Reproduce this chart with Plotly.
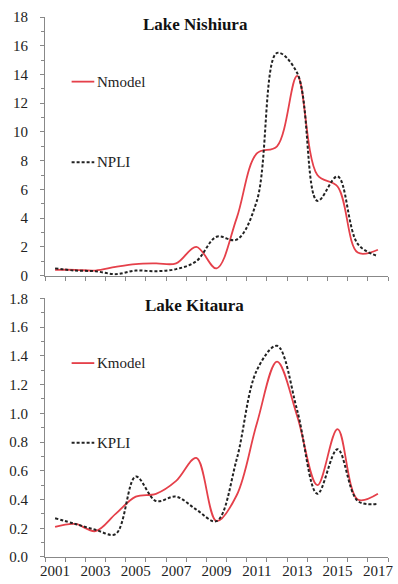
import plotly.graph_objects as go
from plotly.subplots import make_subplots

years = list(range(2001, 2018))
nmodel = [0.4, 0.4, 0.35, 0.6, 0.8, 0.85, 0.85, 2.0, 0.5, 4.0, 8.5, 9.0, 13.9, 7.0, 6.2, 1.6, 1.8]
npli = [0.5, 0.35, 0.3, 0.1, 0.35, 0.3, 0.45, 1.0, 2.7, 2.5, 5.2, 15.5, 14.1, 5.2, 6.9, 2.2, 1.35]
kmodel = [0.21, 0.23, 0.18, 0.30, 0.42, 0.44, 0.53, 0.69, 0.25, 0.43, 0.93, 1.36, 0.98, 0.50, 0.89, 0.40, 0.44]
kpli = [0.27, 0.23, 0.19, 0.16, 0.56, 0.39, 0.42, 0.33, 0.25, 0.68, 1.30, 1.47, 1.02, 0.44, 0.75, 0.39, 0.37]
year_labels = [str(y) for y in range(2001, 2018, 2)]

W, H = 398, 584
L, R, T, B = 45, 5, 17, 24
pw, ph = W - L - R, H - T - B

def px(x):
    return (x - L) / pw

def py(y):
    return (H - B - y) / ph

RED = "#e5404a"
DARK = "#222222"
SERIF = "Liberation Serif"

fig = make_subplots(rows=2, cols=1, shared_xaxes=False)

fig.add_trace(go.Scatter(x=years, y=nmodel, mode="lines", line=dict(color=RED, width=1.8, shape="spline"), showlegend=False), row=1, col=1)
fig.add_trace(go.Scatter(x=years, y=npli, mode="lines", line=dict(color=DARK, width=2, shape="spline", dash="3px,2px"), showlegend=False), row=1, col=1)
fig.add_trace(go.Scatter(x=years, y=kmodel, mode="lines", line=dict(color=RED, width=1.8, shape="spline"), showlegend=False), row=2, col=1)
fig.add_trace(go.Scatter(x=years, y=kpli, mode="lines", line=dict(color=DARK, width=2, shape="spline", dash="3px,2px"), showlegend=False), row=2, col=1)

axis_common = dict(
    showline=True, linecolor="#888888", linewidth=1, showgrid=False, zeroline=False,
    tickfont=dict(family=SERIF, size=15, color=DARK), ticklabeloverflow="allow",
)

xcommon = dict(
    axis_common, range=[2000.5, 2017.5], tickmode="array",
    tickvals=[int(v) for v in year_labels], ticktext=year_labels, ticks="", ticklen=0,
    minor=dict(tick0=2000.5, dtick=1, ticks="outside", ticklen=4, tickcolor="#888888"),
)
fig.update_xaxes(**xcommon, row=1, col=1, showticklabels=False)
fig.update_xaxes(**xcommon, row=2, col=1, showticklabels=True)

fig.update_yaxes(**axis_common, range=[0, 18], dtick=2, tick0=0, ticks="outside", ticklen=4,
                 tickcolor="#888888", ticklabelstandoff=9,
                 minor=dict(dtick=1, ticks="outside", ticklen=3, tickcolor="#888888"),
                 row=1, col=1)
fig.update_yaxes(**axis_common, range=[0, 1.8], dtick=0.2, tick0=0, tickformat=".1f", ticks="outside",
                 ticklen=4, tickcolor="#888888", ticklabelstandoff=9,
                 minor=dict(dtick=0.1, ticks="outside", ticklen=3, tickcolor="#888888"),
                 row=2, col=1)

fig.update_layout(
    width=W, height=H, margin=dict(l=L, r=R, t=T, b=B),
    paper_bgcolor="white", plot_bgcolor="white",
    font=dict(family=SERIF),
    xaxis=dict(domain=[0, 1]), xaxis2=dict(domain=[0, 1]),
    yaxis=dict(domain=[py(277), 1]), yaxis2=dict(domain=[0, py(300)]),
)

annotations = [
    dict(text="<b>Lake Nishiura</b>", x=px(198), y=py(25), font=dict(family=SERIF, size=17, color="#111")),
    dict(text="<b>Lake Kitaura</b>", x=px(197), y=py(307), font=dict(family=SERIF, size=17, color="#111")),
]
legend_items = [("Nmodel", 82, RED, "solid"), ("NPLI", 163, DARK, "dash"),
                ("Kmodel", 365, RED, "solid"), ("KPLI", 445, DARK, "dash")]
shapes = []
for name, yy, col, ds in legend_items:
    annotations.append(dict(text=name, x=px(96), y=py(yy), xanchor="left",
                            font=dict(family=SERIF, size=15, color=DARK)))
    shapes.append(dict(type="line", xref="paper", yref="paper", x0=px(72), x1=px(95),
                       y0=py(yy), y1=py(yy),
                       line=dict(color=col, width=1.8 if ds == "solid" else 2,
                                 dash="solid" if ds == "solid" else "3px,2px")))
for a in annotations:
    a.update(xref="paper", yref="paper", showarrow=False, yanchor="middle")
    a.setdefault("xanchor", "center")
fig.update_layout(annotations=annotations, shapes=shapes)

fig.write_html("out.html")
